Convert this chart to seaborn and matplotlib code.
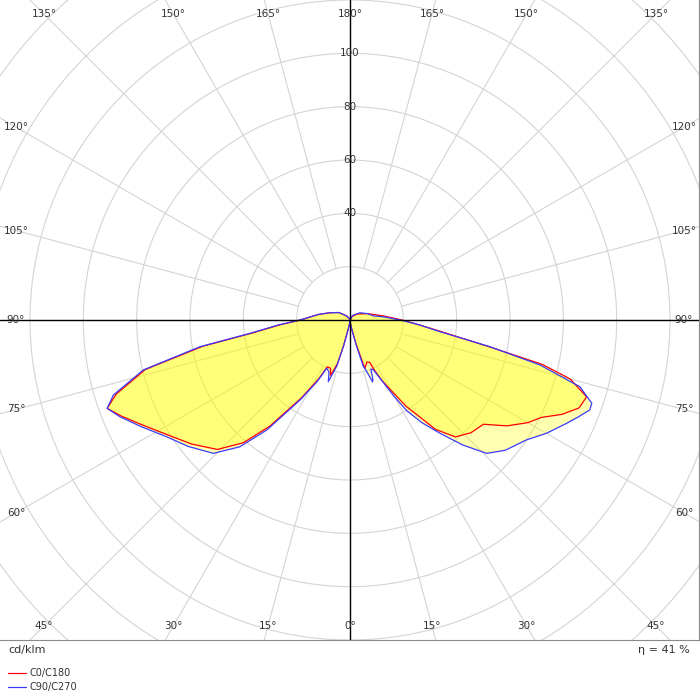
import numpy as np
import pandas as pd
import matplotlib
matplotlib.use('Agg')
import matplotlib.pyplot as plt
from matplotlib.lines import Line2D
import seaborn as sns

# photometric data, gamma in degrees, intensity in cd/klm
C0_gamma = [0, 5, 10, 14, 17, 22, 25, 26, 28, 33, 38, 42, 47, 52, 56, 60, 63, 66, 69, 72, 75, 77, 79, 82.6, 86, 90, 97, 110, 130, 150, 180]
C0_I = [0, 1, 3, 9, 19, 17, 17.5, 21, 26, 38.5, 52, 59, 62, 63.5, 71, 77, 80.5, 87, 92, 93.3, 85.5, 74, 54, 35, 26, 19.5, 12.6, 7, 3.5, 1.5, 0]

C90_gamma = [0, 5, 10, 14, 16, 18, 20, 21, 23, 25, 27, 30, 32, 35, 38.5, 42, 45.7, 50, 55.8, 60, 64.5, 67, 69.4, 71, 73.8, 76.7, 79.2, 82.6, 86, 89.2, 95, 100, 110, 126, 150, 180]
C90_I = [0, 1, 3, 10, 18, 20.4, 24.7, 24, 20, 20.5, 24, 33, 40, 47, 54.3, 63, 71.6, 76, 80, 85, 90, 93, 96, 95.9, 89.8, 73.2, 53.4, 34, 26, 20, 13, 8.9, 7, 4.6, 2, 0]

C180_gamma = [0, 5, 10, 14, 16, 19.4, 22, 25.8, 28, 32, 37.1, 41, 45.7, 52, 57.5, 63, 67.2, 70, 72.4, 76.4, 79.9, 82.4, 86, 90, 100, 110, 124, 140, 160, 180]
C180_I = [0, 1, 3, 10, 17, 22, 19.5, 19.5, 25, 34.5, 50, 61, 69.5, 75.5, 80.5, 87, 93, 96.9, 92, 79, 56, 37, 26.5, 18.5, 12, 8, 5, 2, 0.5, 0]

C270_gamma = [0, 5, 10, 14, 16, 19.4, 22, 25.8, 28, 32, 37.1, 41, 45.7, 52, 57.5, 63, 67.2, 70, 72.4, 76.4, 79.9, 82.4, 86, 90, 100, 110, 124, 140, 160, 180]
C270_I = [0, 1, 3, 10, 18, 24.5, 21, 20.1, 26, 35.4, 51.7, 63, 71.6, 77, 81.5, 88, 93.6, 96.9, 93.1, 79.8, 57.1, 37.8, 27, 18.8, 12, 8, 5, 2, 0.5, 0]

ring_values = [20, 40, 60, 80, 100, 120, 140, 160, 180]
ring_labels = [40, 60, 80, 100]
spoke_angles = list(range(0, 360, 15))
efficiency = 41

RED = '#ff0000'; BLUE = '#3a3aff'; GRID = '#d4d4d4'; TXT = '#333333'

sns.set_style('white')
plt.rcParams['font.family'] = ['DejaVu Sans']

def to_xy(gamma, I, side):
    g = np.radians(gamma)
    I = np.asarray(I, dtype=float)
    return pd.DataFrame({'x': side * I * np.sin(g), 'y': -I * np.cos(g)})

fig = plt.figure(figsize=(7, 7), dpi=100)
ax = fig.add_axes([0, 60 / 700, 699 / 700, 640 / 700])
XL, YL = 350 / 2.6667, 320 / 2.6667
ax.set_xlim(-XL, 699 / 2.6667 - XL)
ax.set_ylim(-YL, YL)
ax.set_aspect('equal')
ax.set_xticks([]); ax.set_yticks([])
for s in ax.spines.values():
    s.set_edgecolor('#8a8a8a'); s.set_linewidth(0.8)
ax.spines['left'].set_visible(False); ax.spines['top'].set_visible(False)

# grid rings and spokes
t = np.linspace(0, 2 * np.pi, 400)
for r in ring_values:
    ax.plot(r * np.cos(t), r * np.sin(t), color=GRID, lw=0.8, zorder=1)
for a in spoke_angles:
    g = np.radians(a)
    ax.plot([20 * np.sin(g), 250 * np.sin(g)], [-20 * np.cos(g), -250 * np.cos(g)],
            color=GRID, lw=0.8, zorder=1)
ax.axhline(0, color='black', lw=1, zorder=4)
ax.axvline(0, color='black', lw=1, zorder=4)

for v in ring_labels:
    ax.text(0, v, str(v), ha='center', va='center', fontsize=7.5, color=TXT, zorder=5)

# angle labels at the frame edges
xin, yin = (350 - 16) / 2.6667, (320 - 14) / 2.6667
for a in range(0, 181, 15):
    g = np.radians(a)
    dx, dy = np.sin(g), -np.cos(g)
    k = min(xin / abs(dx) if abs(dx) > 1e-9 else 1e9, yin / abs(dy) if abs(dy) > 1e-9 else 1e9)
    sides = (1,) if a in (0, 180) else (1, -1)
    for side in sides:
        ax.text(side * dx * k, dy * k, f'{a}°', ha='center', va='center', fontsize=7.5, color=TXT, zorder=5)

series = [(C0_gamma, C0_I, 1, RED), (C90_gamma, C90_I, 1, BLUE),
          (C180_gamma, C180_I, -1, RED), (C270_gamma, C270_I, -1, BLUE)]
for gam, I, side, col in series:
    df = to_xy(gam, I, side)
    ax.fill(df['x'], df['y'], color='#ffff00', alpha=0.31, lw=0, zorder=2)
for gam, I, side, col in series:
    df = to_xy(gam, I, side)
    sns.lineplot(data=df, x='x', y='y', sort=False, estimator=None, color=col, lw=0.9, ax=ax, zorder=3)
ax.set_xlabel(''); ax.set_ylabel('')

fig.text(8 / 700, 1 - 650 / 700, 'cd/klm', ha='left', va='center', fontsize=8, color=TXT)
fig.text(690 / 700, 1 - 650 / 700, f'η = {efficiency} %', ha='right', va='center', fontsize=8, color=TXT)
for yy, col, lab in [(673, RED, 'C0/C180'), (687, BLUE, 'C90/C270')]:
    fig.add_artist(Line2D([8 / 700, 26 / 700], [1 - yy / 700] * 2, color=col, lw=0.9))
    fig.text(30 / 700, 1 - yy / 700, lab, ha='left', va='center', fontsize=7, color=TXT)

fig.savefig('out.png', dpi=100, facecolor='white')
